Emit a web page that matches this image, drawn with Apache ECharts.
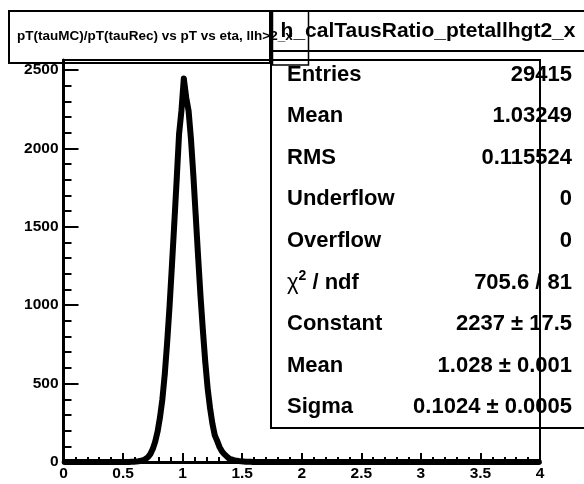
<!DOCTYPE html>
<html>
<head>
<meta charset="utf-8">
<script src="https://cdn.jsdelivr.net/npm/echarts@6/dist/echarts.min.js"></script>
<style>
  html, body { margin: 0; padding: 0; background: #ffffff; }
  #chart { width: 584px; height: 484px; }
</style>
</head>
<body>
<div id="chart"></div>
<script>
// Histogram binning: 200 bins of width 0.02 from 0 to 4
const binLow = 0;
const binWidth = 0.02;

// Bin contents (entries per bin)
const counts = [
  0, 0, 0, 0, 0, 0, 0, 0, 0, 0, 0, 0, 0, 0, 0, 0, 0, 0, 0, 0,
  0, 0, 0, 0, 0, 0, 0, 0, 1, 2, 3, 5, 8, 12, 20, 32, 52, 84, 130, 195,
  285, 400, 560, 760, 990, 1250, 1520, 1800, 2090, 2240, 2446, 2325, 2240, 2060, 1830, 1570, 1310, 1060, 840, 640,
  470, 345, 245, 170, 135, 95, 68, 50, 36, 22, 16, 12, 9, 6, 4, 3, 2, 2, 1, 0,
  0, 0, 0, 0, 0, 0, 0, 0, 0, 0, 0, 0, 0, 0, 0, 0, 0, 0, 0, 0,
  0, 0, 0, 0, 0, 0, 0, 0, 0, 0, 0, 0, 0, 0, 0, 0, 0, 0, 0, 0,
  0, 0, 0, 0, 0, 0, 0, 0, 0, 0, 0, 0, 0, 0, 0, 0, 0, 0, 0, 0,
  0, 0, 0, 0, 0, 0, 0, 0, 0, 0, 0, 0, 0, 0, 0, 0, 0, 0, 0, 0,
  0, 0, 0, 0, 0, 0, 0, 0, 0, 0, 0, 0, 0, 0, 0, 0, 0, 0, 0, 0,
  0, 0, 0, 0, 0, 0, 0, 0, 0, 0, 0, 0, 0, 0, 0, 0, 0, 0, 0, 0
];

// Axis ranges and tick spacing
const xRange = [0, 4];
const xTickStep = 0.5;
const yRange = [0, 2564];
const yTickStep = 500;

// Texts
const histTitle = 'pT(tauMC)/pT(tauRec) vs pT vs eta, llh>2_x';
const statsName = 'h_calTausRatio_ptetallhgt2_x';
const statLabels = ['Entries', 'Mean', 'RMS', 'Underflow', 'Overflow', 'CHI2', 'Constant', 'Mean', 'Sigma'];
const statValues = ['29415', '1.03249', '0.115524', '0', '0', '705.6 / 81', '2237 \u00b1 17.5', '1.028 \u00b1 0.001', '0.1024 \u00b1 0.0005'];

const FONT = '"Liberation Sans", Arial, Helvetica, sans-serif';

// Step outline of the histogram: each bin contributes its two edges at its height
const stepPoints = [];
// Polyline through the bin centres (the broad outline)
const centrePoints = [];
counts.forEach(function (c, i) {
  const lo = binLow + i * binWidth;
  stepPoints.push([lo, c], [lo + binWidth, c]);
  centrePoints.push([lo + binWidth / 2, c]);
});

// Stats box content
const statElements = [];
const rowTop = 74.5, rowStep = 41.6;
statLabels.forEach(function (lab, k) {
  const y = rowTop + k * rowStep;
  if (lab === 'CHI2') {
    statElements.push({
      type: 'text', x: 287, y: y, z: -1,
      style: {
        text: '{c|\u03c7}{s|2}{b| / ndf}',
        verticalAlign: 'middle', align: 'left',
        rich: {
          c: { fontFamily: FONT, fontSize: 22, fontWeight: 'normal', fill: '#000', lineHeight: 26 },
          s: { fontFamily: FONT, fontSize: 14, fontWeight: 'bold', fill: '#000', verticalAlign: 'top', lineHeight: 14 },
          b: { fontFamily: FONT, fontSize: 22, fontWeight: 'bold', fill: '#000', lineHeight: 26 }
        }
      }
    });
  } else {
    statElements.push({
      type: 'text', x: 287, y: y, z: -1,
      style: { text: lab, font: 'bold 22px ' + FONT, fill: '#000', align: 'left', verticalAlign: 'middle' }
    });
  }
  statElements.push({
    type: 'text', x: 572, y: y, z: -1,
    style: { text: statValues[k], font: 'bold 22px ' + FONT, fill: '#000', align: 'right', verticalAlign: 'middle' }
  });
});

const chart = echarts.init(document.getElementById('chart'), null, { renderer: 'canvas' });

chart.setOption({
  animation: false,
  backgroundColor: '#ffffff',
  grid: {
    left: 63.5, right: 44, top: 60, bottom: 22,
    containLabel: false,
    outerBoundsMode: 'none',
    show: true,
    borderColor: '#000', borderWidth: 2,
    backgroundColor: 'transparent'
  },
  xAxis: {
    type: 'value',
    min: xRange[0], max: xRange[1], interval: xTickStep,
    axisLine: { show: true, onZero: false, lineStyle: { color: '#000', width: 3 } },
    axisTick: { show: true, inside: true, length: 9, lineStyle: { color: '#000', width: 2 } },
    minorTick: { show: true, splitNumber: 5, length: 5, lineStyle: { color: '#000', width: 2 } },
    axisLabel: {
      color: '#000', fontFamily: FONT, fontWeight: 'bold', fontSize: 15.5, margin: 4,
      showMinLabel: true, showMaxLabel: true
    },
    splitLine: { show: false },
    minorSplitLine: { show: false }
  },
  yAxis: {
    type: 'value',
    min: yRange[0], max: yRange[1], interval: yTickStep,
    axisLine: { show: true, onZero: false, lineStyle: { color: '#000', width: 3 } },
    axisTick: { show: true, inside: true, length: 15, lineStyle: { color: '#000', width: 2 } },
    minorTick: { show: true, splitNumber: 5, length: 8, lineStyle: { color: '#000', width: 2 } },
    axisLabel: {
      color: '#000', fontFamily: FONT, fontWeight: 'bold', fontSize: 15.5, margin: 5,
      formatter: function (v) { return v % yTickStep === 0 ? String(v) : ''; }
    },
    splitLine: { show: false },
    minorSplitLine: { show: false }
  },
  series: [
    {
      type: 'line',
      data: centrePoints,
      showSymbol: false,
      symbol: 'none',
      clip: false,
      lineStyle: { color: '#000', width: 6, join: 'round', cap: 'round' },
      z: 3
    },
    {
      type: 'line',
      data: stepPoints,
      showSymbol: false,
      symbol: 'none',
      clip: false,
      lineStyle: { color: '#000', width: 2.5, join: 'miter' },
      z: 4
    }
  ],
  graphic: [
    // Histogram title pave
    {
      type: 'rect', z: -1,
      shape: { x: 9, y: 11, width: 261, height: 52 },
      style: { fill: 'none', stroke: '#000', lineWidth: 2 }
    },
    {
      type: 'text', x: 17, y: 36, z: -1,
      style: { text: histTitle, font: 'bold 13.5px ' + FONT, fill: '#000', align: 'left', verticalAlign: 'middle' }
    },
    // Stats box
    {
      type: 'rect', z: -1,
      shape: { x: 271, y: 11, width: 330, height: 417 },
      style: { fill: 'none', stroke: '#000', lineWidth: 2 }
    },
    {
      type: 'line', z: -1,
      shape: { x1: 271, y1: 51, x2: 600, y2: 51 },
      style: { stroke: '#000', lineWidth: 2 }
    },
    {
      type: 'rect', z: -1,
      shape: { x: 272.5, y: 11, width: 36, height: 54 },
      style: { fill: 'none', stroke: '#000', lineWidth: 1.5 }
    },
    {
      type: 'text', x: 428, y: 31, z: -1,
      style: { text: statsName, font: 'bold 21px ' + FONT, fill: '#000', align: 'center', verticalAlign: 'middle' }
    }
  ].concat(statElements)
});
</script>
</body>
</html>
